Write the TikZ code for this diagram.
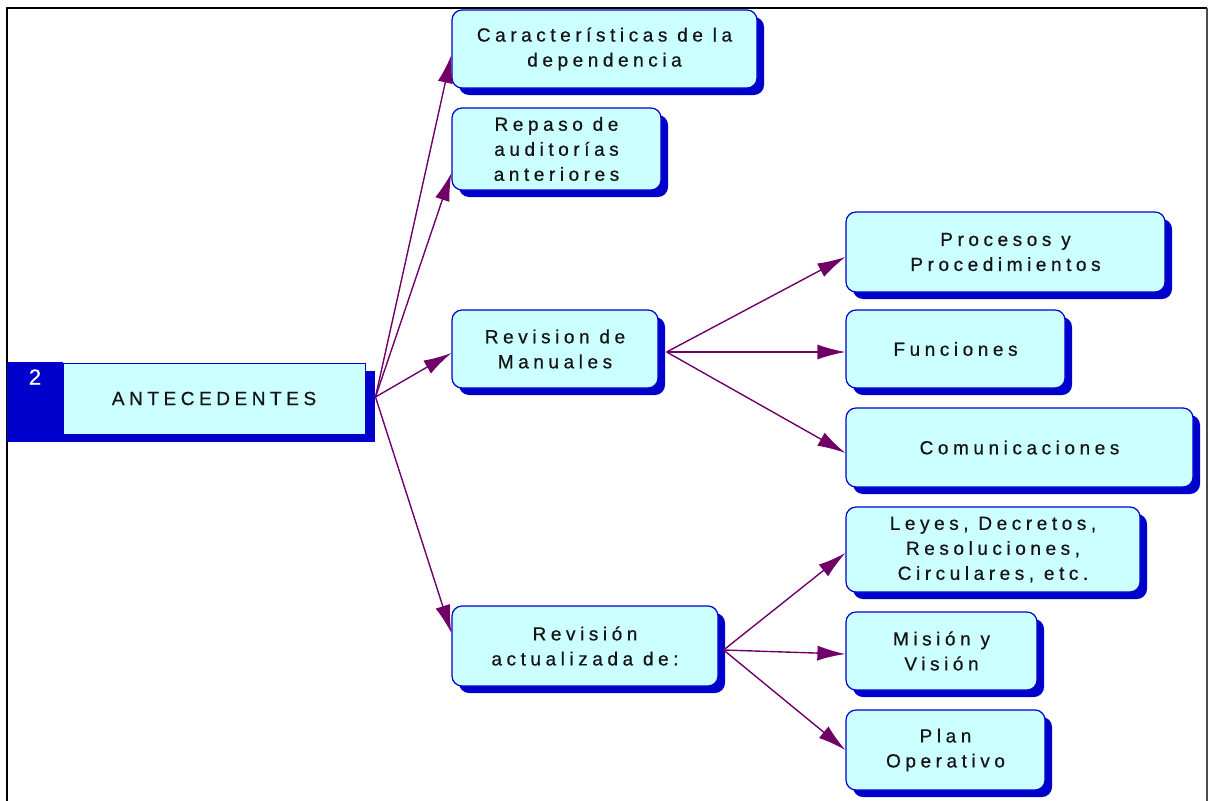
\documentclass[tikz,border=0pt]{standalone}
\usepackage{fontspec}
\setmainfont{Liberation Sans}[LetterSpace=24,FakeBold=0.6]
\usetikzlibrary{arrows.meta,shadows}
\definecolor{boxfill}{RGB}{204,255,255}
\definecolor{boxblue}{RGB}{0,0,204}
\definecolor{arrowc}{RGB}{112,0,104}
\definecolor{txt}{RGB}{20,20,20}
\tikzset{
  box/.style={draw=boxblue, line width=1.2pt, fill=boxfill, rounded corners=10pt,
    align=center, font=\fontsize{19}{25}\selectfont, text=txt, inner sep=0pt,
    drop shadow={shadow xshift=7pt, shadow yshift=-7pt, fill=boxblue, opacity=1}},
  conn/.style={draw=arrowc, line width=1.4pt, -{Latex[length=28pt,width=15pt]}},
}
\begin{document}
\begin{tikzpicture}[x=1pt,y=-1pt]
\useasboundingbox (0,0) rectangle (1209,800);
% frame
\draw[line width=2.5pt, black] (7,801) -- (7,8) -- (1207,8);
\draw[line width=2pt, black!70] (1207,8) -- (1207,801);
% root
\fill[boxblue] (7,362) rectangle (63,442);
\fill[boxblue] (63,371) rectangle (375,442);
\node[draw=boxblue, line width=1pt, fill=boxfill, minimum width=302pt, minimum height=71pt,
  inner sep=0pt, font=\fontsize{19}{25}\selectfont, text=txt] (root) at (214,398.5) {ANTECEDENTES};
\node[text=white, font=\fontsize{22}{22}\selectfont, inner sep=0pt] (num) at (35,377) {2};
\coordinate (rootout) at ([xshift=10pt,yshift=1.5pt]root.east);
% level 1
\node[box, minimum width=305pt, minimum height=78pt] (cara) at (604.5,49) {Características de la\\dependencia};
\node[box, minimum width=209pt, minimum height=82pt] (repa) at (556.5,149) {Repaso de\\auditorías\\anteriores};
\node[box, minimum width=206pt, minimum height=78pt] (manu) at (555,349) {Revision de\\Manuales};
\node[box, minimum width=266pt, minimum height=80pt] (revi) at (585,646) {Revisión\\actualizada de:};
% level 2
\node[box, minimum width=319pt, minimum height=80pt] (proc) at (1005.5,252) {Procesos y\\Procedimientos};
\node[box, minimum width=219pt, minimum height=78pt] (func) at (955.5,349) {Funciones};
\node[box, minimum width=347pt, minimum height=79pt] (comu) at (1019.5,447.5) {Comunicaciones};
\node[box, minimum width=294pt, minimum height=85pt] (leye) at (993,549.5) {Leyes, Decretos,\\Resoluciones,\\Circulares, etc.};
\node[box, minimum width=191pt, minimum height=78pt] (misi) at (941.5,651) {Misión y\\Visión};
\node[box, minimum width=199pt, minimum height=80pt] (plan) at (945.5,750) {Plan\\Operativo};
% connectors
\draw[conn] (rootout) -- ([yshift=-6pt]cara.west);
\draw[conn] (rootout) -- ([yshift=-24pt]repa.west);
\draw[conn] (rootout) -- ([yshift=-4pt]manu.west);
\draw[conn] (rootout) -- ([yshift=13pt]revi.west);
\coordinate (manuout) at ([xshift=8pt,yshift=-3pt]manu.east);
\draw[conn] (manuout) -- ([yshift=-5pt]proc.west);
\draw[conn] (manuout) -- ([yshift=-3pt]func.west);
\draw[conn] (manuout) -- ([yshift=-5.5pt]comu.west);
\coordinate (reviout) at ([xshift=5pt,yshift=-4pt]revi.east);
\draw[conn] (reviout) -- ([yshift=-3.5pt]leye.west);
\draw[conn] (reviout) -- ([yshift=-3pt]misi.west);
\draw[conn] (reviout) -- (plan.west);
\end{tikzpicture}
\end{document}
